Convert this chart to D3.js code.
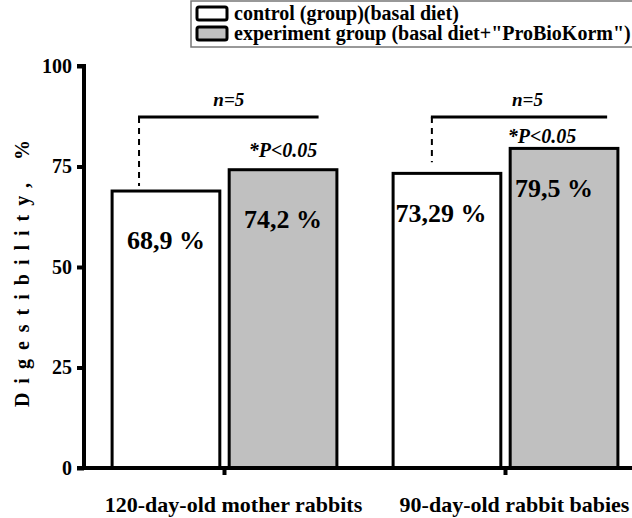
<!DOCTYPE html>
<html>
<head>
<meta charset="utf-8">
<script src="https://cdn.jsdelivr.net/npm/d3@7"></script>
<style>
  body { margin: 0; background: #fff; }
</style>
</head>
<body>
<div class="chart"></div>
<script>
const groups = ['120-day-old mother rabbits', '90-day-old rabbit babies'];
const series = ['control (group)(basal diet)', 'experiment group (basal diet+"ProBioKorm")'];
const control = [68.9, 73.29];
const experiment = [74.2, 79.5];
const valueLabels = [['68,9 %', '74,2 %'], ['73,29 %', '79,5 %']];
const yTicks = [0, 25, 50, 75, 100];
const pLabel = '*P<0.05';
const nLabel = 'n=5';

const width = 632;
const height = 518;
const margin = { left: 84, bottom: 50, top: 66 };
const serif = '"Liberation Serif"';

const svg = d3.select('.chart').append('svg')
  .attr('width', width)
  .attr('height', height)
  .style('font-family', serif)
  .style('font-weight', 'bold');

// every text in serif bold
const txt = (sel, size) => sel
  .style('font-family', serif)
  .style('font-weight', 'bold')
  .style('font-size', size + 'px');

const x0 = d3.scaleBand()
  .domain(groups)
  .range([margin.left, margin.left + 562])
  .paddingInner(0.2)
  .paddingOuter(0.1);

const x1 = d3.scaleBand()
  .domain([0, 1])
  .range([0, x0.bandwidth()])
  .paddingInner(0.08);

const y = d3.scaleLinear()
  .domain([0, 100])
  .range([height - margin.bottom, margin.top]);

const fills = ['#ffffff', '#c0c0c0'];

const rows = groups.map((g, i) => ({
  group: g,
  values: [control[i], experiment[i]],
  labels: valueLabels[i]
}));

// bars
const gGroups = svg.selectAll('.grp')
  .data(rows)
  .enter()
  .append('g')
  .attr('class', 'grp')
  .attr('transform', d => `translate(${x0(d.group)},0)`);

gGroups.selectAll('rect')
  .data(d => d.values.map((v, k) => ({ v, k })))
  .enter()
  .append('rect')
  .attr('x', d => x1(d.k))
  .attr('y', d => y(d.v))
  .attr('width', x1.bandwidth())
  .attr('height', d => y(0) - y(d.v))
  .attr('fill', d => fills[d.k])
  .attr('stroke', '#000')
  .attr('stroke-width', 3);

// value labels inside bars
const labelDrop = [[49, 49], [40, 40]];
const labelShift = [[0, 0], [-6, -10]];
gGroups.each(function (d, i) {
  d3.select(this).selectAll('.val')
    .data(d.values.map((v, k) => ({ v, k, t: d.labels[k] })))
    .enter()
    .append('text')
    .attr('class', 'val')
    .attr('x', e => x1(e.k) + x1.bandwidth() / 2 + labelShift[i][e.k])
    .attr('y', e => y(e.v) + labelDrop[i][e.k] + 9)
    .attr('text-anchor', 'middle')
    .call(txt, 26)
    .text(e => e.t);
});

// significance and n brackets
const bracketL = [0.25, 0.36];
const bracketR = [0.83, 0.9];
const bracketY = 117;
const pLift = [13, 5];
const nShift = [0, 8];
gGroups.each(function (d, i) {
  const g = d3.select(this);
  const bw = x1.bandwidth();
  const xl = x1(0) + bracketL[i] * bw;
  const xr = x1(1) + bracketR[i] * bw;
  g.append('line')
    .attr('x1', xl - 1).attr('x2', xr)
    .attr('y1', bracketY).attr('y2', bracketY)
    .attr('stroke', '#000').attr('stroke-width', 3);
  g.append('line')
    .attr('x1', xl).attr('x2', xl)
    .attr('y1', bracketY).attr('y2', y(d.values[0]) - (i === 0 ? 5 : 11))
    .attr('stroke', '#000').attr('stroke-width', 2)
    .attr('stroke-dasharray', '6,5');
  g.append('text')
    .attr('x', (xl + xr) / 2 + nShift[i])
    .attr('y', bracketY - 11)
    .attr('text-anchor', 'middle')
    .call(txt, 19)
    .style('font-style', 'italic')
    .text(nLabel);
  g.append('text')
    .attr('x', x1(1) + bw / 2 - (i === 0 ? 0 : 22))
    .attr('y', y(d.values[1]) - pLift[i])
    .attr('text-anchor', 'middle')
    .call(txt, 20)
    .style('font-style', 'italic')
    .text(pLabel);
});

// y axis
const yAxis = svg.append('g')
  .attr('transform', `translate(${margin.left},0)`)
  .call(d3.axisLeft(y).tickValues(yTicks).tickSize(7).tickPadding(5).tickFormat(d3.format('d')));
yAxis.select('.domain').attr('stroke-width', 4).attr('d', `M-7,${y(100)}H0V${y(0)}`);
yAxis.selectAll('.tick line').attr('stroke-width', 4);
yAxis.selectAll('.tick text').attr('fill', '#000').call(txt, 20);

// x axis
const xAxis = svg.append('g')
  .attr('transform', `translate(0,${y(0)})`)
  .call(d3.axisBottom(x0).tickSize(7).tickPadding(21));
xAxis.select('.domain').attr('stroke-width', 4).attr('d', `M${margin.left - 7},0H${width}`);
xAxis.selectAll('.tick line').attr('stroke-width', 4);
xAxis.selectAll('.tick text').attr('fill', '#000').attr('dx', 9).call(txt, 22);

// y title
svg.append('text')
  .attr('transform', `translate(29,${(y(0) + y(100)) / 2 + 2}) rotate(-90)`)
  .attr('text-anchor', 'middle')
  .attr('letter-spacing', 9)
  .call(txt, 20)
  .text('Digestibility, %');

// legend
const legend = svg.append('g').attr('transform', 'translate(191,1)');
legend.append('rect')
  .attr('x', 0).attr('y', 0)
  .attr('width', 460).attr('height', 46)
  .attr('fill', '#fff')
  .attr('stroke', '#777').attr('stroke-width', 1.5);
const items = legend.selectAll('.item')
  .data(series)
  .enter()
  .append('g')
  .attr('transform', (d, i) => `translate(6,${6 + i * 20})`);
items.append('rect')
  .attr('width', 30).attr('height', 13)
  .attr('rx', 2)
  .attr('fill', (d, i) => fills[i])
  .attr('stroke', '#000').attr('stroke-width', 3);
items.append('text')
  .attr('x', 37).attr('y', 13)
  .call(txt, 20)
  .text(d => d);
</script>
</body>
</html>
